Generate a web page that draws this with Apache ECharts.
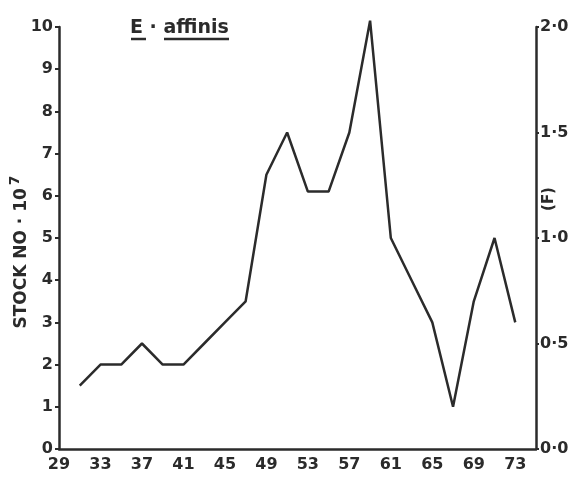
<!DOCTYPE html>
<html>
<head>
<meta charset="utf-8">
<script src="https://cdn.jsdelivr.net/npm/echarts@6/dist/echarts.min.js"></script>
<style>html,body{margin:0;padding:0;background:#fff}#c{width:574px;height:479px}</style>
</head>
<body>
<div id="c"></div>
<script>
const years = [31,33,35,37,39,41,43,45,47,49,51,53,55,57,59,61,63,65,67,69,71,73];
const stock = [1.5,2.0,2.0,2.5,2.0,2.0,2.5,3.0,3.5,6.5,7.5,6.1,6.1,7.5,10.15,5.0,4.0,3.0,1.0,3.5,5.0,3.0];
const xTicks = [29,33,37,41,45,49,53,57,61,65,69,73];
const leftTicks = [0,1,2,3,4,5,6,7,8,9,10];
const rightTicks = ['0·0','0·5','1·0','1·5','2·0'];

const FONT = '"DejaVu Sans", sans-serif';
const INK = '#2b2b2b';
const chart = echarts.init(document.getElementById('c'), null, {renderer:'canvas'});
chart.setOption({
  backgroundColor:'#fff',
  animation:false,
  grid:{left:59, right:38, top:27, bottom:30, containLabel:false, outerBoundsMode:'none'},
  xAxis:{
    type:'value', min:29, max:75, interval:4,
    axisLine:{show:true, lineStyle:{color:INK, width:2.5}},
    axisTick:{show:false},
    splitLine:{show:false},
    axisLabel:{
      margin:8, color:INK, fontFamily:FONT, fontWeight:'bold', fontSize:16,
      showMaxLabel:false,
      formatter:v => xTicks.includes(v) ? String(v) : ''
    }
  },
  yAxis:[{
    type:'value', min:0, max:10, interval:1, position:'left',
    axisLine:{show:true, lineStyle:{color:INK, width:2.5}},
    axisTick:{show:true, length:4, lineStyle:{color:INK, width:2}},
    splitLine:{show:false},
    axisLabel:{margin:6, color:INK, fontFamily:FONT, fontWeight:'bold', fontSize:16,
      formatter:v => leftTicks.includes(v) ? String(v) : ''}
  },{
    type:'value', min:0, max:2, interval:0.5, position:'right',
    axisLine:{show:true, lineStyle:{color:INK, width:2.5}},
    axisTick:{show:true, length:3, lineStyle:{color:INK, width:2}},
    splitLine:{show:false},
    axisLabel:{margin:4, color:INK, fontFamily:FONT, fontWeight:'bold', fontSize:16,
      formatter:v => rightTicks[Math.round(v*2)] || ''}
  }],
  graphic:[
    {type:'text', left:130, top:19, style:{text:'E · affinis', font:'bold 19px '+FONT, fill:INK}},
    {type:'line', shape:{x1:131,y1:39,x2:146,y2:39}, style:{stroke:INK, lineWidth:2.5}},
    {type:'line', shape:{x1:164,y1:39,x2:229,y2:39}, style:{stroke:INK, lineWidth:2.5}},
    {type:'text', x:22, y:252, rotation:Math.PI/2,
      style:{text:'{m|STOCK NO · 10}{sup|7}', align:'center', verticalAlign:'middle',
        rich:{
          m:{fontFamily:FONT, fontWeight:'bold', fontSize:17, fill:INK, color:INK},
          sup:{fontFamily:FONT, fontWeight:'bold', fontSize:14, fill:INK, color:INK, padding:[0,0,14,3]}
        }}},
    {type:'text', x:549, y:199, rotation:Math.PI/2, style:{text:'(F)', font:'bold 15px '+FONT, fill:INK, align:'center', verticalAlign:'middle'}}
  ],
  series:[{
    type:'line', xAxisIndex:0, yAxisIndex:0, clip:false,
    data: years.map((y,i)=>[y, stock[i]]),
    symbol:'none', lineStyle:{color:INK, width:2.5}
  }]
});
</script>
</body>
</html>
